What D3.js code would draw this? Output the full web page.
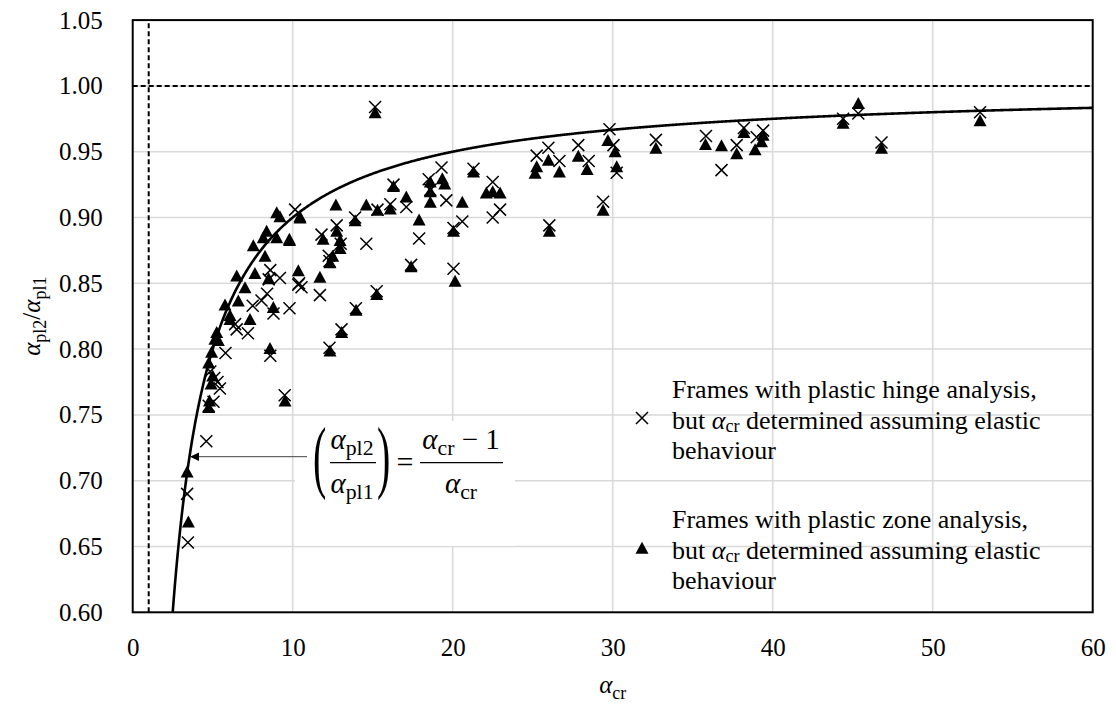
<!DOCTYPE html>
<html><head><meta charset="utf-8">
<script src="https://cdn.jsdelivr.net/npm/d3@7"></script>
<style>body{margin:0;background:#fff;} text{font-family:"Liberation Serif","Times New Roman",serif;}</style>
</head><body>
<svg id="c" width="1116" height="711"></svg>
<script>
// ---- data ----
const xTicks = [0, 10, 20, 30, 40, 50, 60];
const yTicks = [0.60, 0.65, 0.70, 0.75, 0.80, 0.85, 0.90, 0.95, 1.00, 1.05];

// Frames with plastic hinge analysis (crosses)
const hingeX = [3.4, 3.45, 4.6, 4.75, 5.05, 5.45, 5.1, 4.85, 5.8, 6.5, 7.2, 6.4, 8.6, 7.5, 8.05, 8.4, 8.8, 9.8, 8.6, 8.5, 9.2,
  10.35, 10.55, 11.7, 11.8, 10.15, 9.5, 12.25, 12.3, 12.75, 13.0, 13.9, 14.6, 15.3, 16.1, 16.3, 17.1, 17.9, 18.5, 19.3, 19.6,
  20.6, 20.05, 21.3, 22.5, 22.96, 22.5, 20.05, 17.4, 15.25, 13.95, 13.05, 12.3, 15.15, 25.25, 25.98, 26.67, 27.85, 28.5,
  29.8, 30.05, 30.25, 29.4, 26.04, 32.7, 35.83, 36.8, 37.75, 38.2, 39.0, 39.4, 44.4, 45.35, 46.8, 52.96, 5.3, 10.4, 18.6];
const hingeY = [0.690, 0.653, 0.730, 0.757, 0.760, 0.770, 0.778, 0.783, 0.797, 0.815, 0.812, 0.819, 0.795, 0.833, 0.837, 0.842, 0.827, 0.831, 0.860, 0.853, 0.854,
  0.849, 0.847, 0.841, 0.887, 0.906, 0.765, 0.871, 0.867, 0.894, 0.880, 0.900, 0.880, 0.906, 0.910, 0.925, 0.908, 0.884, 0.929, 0.938, 0.913,
  0.897, 0.892, 0.937, 0.927, 0.906, 0.900, 0.861, 0.864, 0.844, 0.831, 0.815, 0.801, 0.984, 0.947, 0.953, 0.943, 0.955, 0.943,
  0.967, 0.955, 0.934, 0.912, 0.894, 0.959, 0.962, 0.936, 0.955, 0.968, 0.961, 0.966, 0.975, 0.979, 0.957, 0.980, 0.775, 0.850, 0.921];

// Frames with plastic zone analysis (triangles)
const zoneX = [3.4, 3.48, 4.75, 4.8, 4.9, 5.0, 4.75, 4.93, 5.14, 5.25, 5.35, 6.08, 7.33, 6.08, 5.77, 6.6, 7.02, 6.5, 7.64, 8.27,
  7.54, 8.16, 8.37, 9.0, 9.79, 9.0, 10.45, 8.79, 8.5, 8.58, 10.35, 11.7, 11.9, 9.52, 12.7, 12.75, 12.33, 12.5, 12.96, 12.96,
  13.9, 14.6, 15.3, 16.1, 16.3, 17.1, 17.9, 18.6, 18.6, 18.6, 19.35, 19.5, 20.6, 20.05, 21.3, 22.1, 22.5, 22.96, 20.15, 17.4,
  15.25, 13.96, 13.06, 12.33, 15.15, 25.15, 25.25, 25.98, 26.67, 27.85, 28.4, 29.7, 30.15, 30.25, 32.7, 35.8, 36.8, 37.75,
  38.2, 38.9, 39.3, 39.4, 44.4, 45.35, 46.8, 52.96, 29.4, 26.04, 10.46, 9.2, 9.8];
const zoneY = [0.706, 0.668, 0.755, 0.760, 0.773, 0.779, 0.789, 0.797, 0.807, 0.812, 0.806, 0.822, 0.822, 0.825, 0.833, 0.836, 0.846, 0.855, 0.857, 0.870,
  0.878, 0.884, 0.889, 0.884, 0.883, 0.903, 0.900, 0.831, 0.853, 0.800, 0.859, 0.854, 0.883, 0.760, 0.909, 0.889, 0.865, 0.870, 0.876, 0.882,
  0.897, 0.909, 0.905, 0.906, 0.923, 0.915, 0.8975, 0.9265, 0.919, 0.911, 0.929, 0.925, 0.911, 0.889, 0.934, 0.918, 0.919, 0.918, 0.851, 0.862,
  0.841, 0.829, 0.812, 0.798, 0.979, 0.933, 0.938, 0.943, 0.934, 0.946, 0.936, 0.958, 0.9495, 0.938, 0.952, 0.955, 0.954, 0.948,
  0.964, 0.951, 0.957, 0.962, 0.971, 0.986, 0.952, 0.973, 0.905, 0.889, 0.899, 0.900, 0.882];

// legend lines: [before, italic alpha, subscript, after]
const legendHinge = [["Frames with plastic hinge analysis,"], ["but ", "α", "cr", " determined assuming elastic"], ["behaviour"]];
const legendZone = [["Frames with plastic zone analysis,"], ["but ", "α", "cr", " determined assuming elastic"], ["behaviour"]];

// ---- drawing ----
const svg = d3.select("#c");
const x = d3.scaleLinear().domain([0, 60]).range([132.7, 1092.7]);
const y = d3.scaleLinear().domain([0.6, 1.05]).range([612.3, 20.1]);
const FS = 25;   // tick labels
const LFS = 26;  // legend

// gridlines
svg.append("g").selectAll("line").data(xTicks.slice(1, -1)).join("line")
  .attr("x1", d => x(d)).attr("x2", d => x(d)).attr("y1", y(0.6)).attr("y2", y(1.05))
  .attr("stroke", "#d9d9d9").attr("stroke-width", 1.5);
svg.append("g").selectAll("line").data(yTicks.slice(1, -1)).join("line")
  .attr("x1", x(0)).attr("x2", x(60)).attr("y1", d => y(d)).attr("y2", d => y(d))
  .attr("stroke", "#d9d9d9").attr("stroke-width", 1.5);

// axes (labels via d3 axes)
const xAxis = svg.append("g").attr("transform", `translate(0,${y(0.6)})`)
  .call(d3.axisBottom(x).tickValues(xTicks).tickSize(0).tickFormat(d3.format("d")));
const yAxis = svg.append("g").attr("transform", `translate(${x(0)},0)`)
  .call(d3.axisLeft(y).tickValues(yTicks).tickSize(0).tickPadding(30).tickFormat(d3.format(".2f")));
[xAxis, yAxis].forEach(g => {
  g.select(".domain").remove();
  g.selectAll("text").attr("font-size", FS).attr("font-family", "Liberation Serif").attr("fill", "#000");
});
xAxis.selectAll("text").attr("dy", "0.35em").attr("y", 35);

// dashed reference lines
svg.append("line").attr("x1", x(0)).attr("x2", x(60)).attr("y1", y(1)).attr("y2", y(1))
  .attr("stroke", "#000").attr("stroke-width", 2).attr("stroke-dasharray", "5,3");
svg.append("line").attr("x1", x(1)).attr("x2", x(1)).attr("y1", y(0.6)).attr("y2", y(1.05))
  .attr("stroke", "#000").attr("stroke-width", 2).attr("stroke-dasharray", "5,3");

// plot border
svg.append("rect").attr("x", x(0)).attr("y", y(1.05)).attr("width", x(60) - x(0)).attr("height", y(0.6) - y(1.05))
  .attr("fill", "none").attr("stroke", "#000").attr("stroke-width", 2);

// theoretical curve (alpha_cr - 1)/alpha_cr
const curveX = d3.range(2.5, 60.001, 0.05);
svg.append("path").datum(curveX)
  .attr("d", d3.line().x(d => x(d)).y(d => y((d - 1) / d)))
  .attr("fill", "none").attr("stroke", "#000").attr("stroke-width", 2.6);

// markers
function crossPath(cx, cy, r) {
  return `M${cx - r},${cy - r}L${cx + r},${cy + r}M${cx - r},${cy + r}L${cx + r},${cy - r}`;
}
function triPath(cx, cy, w, h) {
  return `M${cx},${cy - h * 0.6}L${cx + w / 2},${cy + h * 0.4}L${cx - w / 2},${cy + h * 0.4}Z`;
}
svg.append("g").selectAll("path").data(d3.range(zoneX.length)).join("path")
  .attr("d", i => triPath(x(zoneX[i]), y(zoneY[i]), 13, 12)).attr("fill", "#000");
svg.append("g").selectAll("path").data(d3.range(hingeX.length)).join("path")
  .attr("d", i => crossPath(x(hingeX[i]), y(hingeY[i]), 6)).attr("stroke", "#000").attr("stroke-width", 1.5).attr("fill", "none");

function richLine(g, parts, tx, ty, fs) {
  const t = g.append("text").attr("x", tx).attr("y", ty).attr("font-size", fs).attr("fill", "#000");
  if (parts.length === 1) { t.text(parts[0]); return t; }
  t.append("tspan").text(parts[0]);
  t.append("tspan").attr("font-style", "italic").text(parts[1]);
  t.append("tspan").attr("font-size", fs * 0.7).attr("dy", fs * 0.12).text(parts[2]);
  t.append("tspan").attr("dy", -fs * 0.12).text(parts[3]);
  return t;
}

// legend
const lg = svg.append("g");
const LSP = 30.5;
legendHinge.forEach((p, i) => richLine(lg, p, 672, 398 + i * LSP, LFS));
legendZone.forEach((p, i) => richLine(lg, p, 672, 528 + i * LSP, LFS));
lg.append("path").attr("d", crossPath(642, 418, 6)).attr("stroke", "#000").attr("stroke-width", 1.5);
lg.append("path").attr("d", triPath(642, 549, 13, 12)).attr("fill", "#000");

// formula annotation box
const fb = svg.append("g");
fb.append("rect").attr("x", 295).attr("y", 421).attr("width", 220).attr("height", 125).attr("fill", "#fff");
fb.append("line").attr("x1", 307).attr("x2", 196).attr("y1", 456.7).attr("y2", 456.7).attr("stroke", "#404040").attr("stroke-width", 1);
fb.append("path").attr("d", "M190,456.7L199,452.5L199,460.9Z").attr("fill", "#000");
const FF = 29;
function alphaSub(g, tx, ty, sub, fs, anchor) {
  const t = g.append("text").attr("x", tx).attr("y", ty).attr("font-size", fs).attr("text-anchor", anchor || "start");
  t.append("tspan").attr("font-style", "italic").text("α");
  t.append("tspan").attr("font-size", fs * 0.75).attr("dy", fs * 0.2).text(sub);
  return t;
}
fb.append("text").attr("transform", "translate(313,483) scale(1,2)").attr("font-size", 40).text("(");
alphaSub(fb, 352, 449, "pl2", FF, "middle");
fb.append("line").attr("x1", 330).attr("x2", 376).attr("y1", 462.7).attr("y2", 462.7).attr("stroke", "#000").attr("stroke-width", 1.3);
alphaSub(fb, 352, 493, "pl1", FF, "middle");
fb.append("text").attr("transform", "translate(377,483) scale(1,2)").attr("font-size", 40).text(")");
fb.append("text").attr("x", 405).attr("y", 472).attr("font-size", 30).attr("text-anchor", "middle").text("=");
const nt = alphaSub(fb, 461, 449, "cr", FF, "middle");
nt.append("tspan").attr("dy", -FF * 0.2).attr("font-size", FF).text(" − 1");
fb.append("line").attr("x1", 420).attr("x2", 503).attr("y1", 462.7).attr("y2", 462.7).attr("stroke", "#000").attr("stroke-width", 1.3);
alphaSub(fb, 461, 493, "cr", FF, "middle");

// axis titles
const TFS = 25;
const xt = svg.append("text").attr("x", x(30)).attr("y", 693).attr("text-anchor", "middle").attr("font-size", TFS);
xt.append("tspan").attr("font-style", "italic").text("α");
xt.append("tspan").attr("font-size", TFS * 0.72).attr("dy", TFS * 0.22).text("cr");
const yt = svg.append("text").attr("transform", `translate(40,${(y(0.6) + y(1.05)) / 2}) rotate(-90)`)
  .attr("text-anchor", "middle").attr("font-size", TFS);
yt.append("tspan").attr("font-style", "italic").text("α");
yt.append("tspan").attr("font-size", TFS * 0.72).attr("dy", TFS * 0.22).text("pl2");
yt.append("tspan").attr("dy", -TFS * 0.22).text("/");
yt.append("tspan").attr("font-style", "italic").text("α");
yt.append("tspan").attr("font-size", TFS * 0.72).attr("dy", TFS * 0.22).text("pl1");
</script>
</body></html>
